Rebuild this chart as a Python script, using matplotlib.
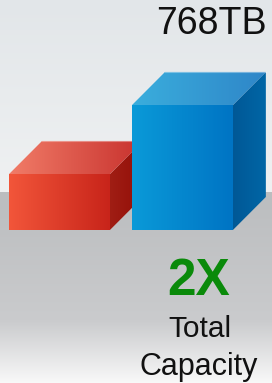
import numpy as np
import matplotlib.pyplot as plt
from matplotlib.patches import Polygon
from matplotlib.colors import LinearSegmentedColormap, to_rgb

# 数据
categories = ['Before', 'After']
capacity_tb = [344, 768]
value_label = '768TB'
ratio_text = '2X'
caption_lines = ['Total', 'Capacity']

front_colors = [('#f2563a', '#c8241a'), ('#0a9ad8', '#0074c4')]
top_colors = [('#f17c68', '#c8322e'), ('#3aaedd', '#2f86c8')]
side_colors = [('#a01e14', '#930e08'), ('#005896', '#0066a6')]

W, H = 272, 383
fig = plt.figure(figsize=(W / 100, H / 100), dpi=100)
ax = fig.add_axes([0, 0, 1, 1])

xlim = (-0.484, 1.728)
ylim = (-940, 1413)

# 背景渐变
rows = np.arange(H)
stops_px = [0, 191, 192, 200, 320, 383]
stops_c = ['#e2e6e9', '#eff1f2', '#bbbdbf', '#bcbec0', '#cacbcd', '#f9f9f9']
bg = np.zeros((H, 1, 3))
for k in range(3):
    bg[:, 0, k] = np.interp(rows, stops_px, [to_rgb(c)[k] for c in stops_c])
ax.imshow(bg, extent=[xlim[0], xlim[1], ylim[0], ylim[1]], aspect='auto',
          origin='upper', zorder=0, interpolation='bilinear')


def grad_fill(verts, c0, c1, z):
    poly = Polygon(verts, closed=True, facecolor='none', edgecolor='none')
    ax.add_patch(poly)
    xs = [v[0] for v in verts]
    ys = [v[1] for v in verts]
    cmap = LinearSegmentedColormap.from_list('g', [c0, c1])
    im = ax.imshow(np.linspace(0, 1, 256)[None, :], cmap=cmap,
                   extent=[min(xs), max(xs), min(ys), max(ys)],
                   aspect='auto', origin='lower', zorder=z,
                   interpolation='bilinear')
    im.set_clip_path(poly)


width = 0.82
dx, dy = 0.268, 203
for i, h in enumerate(capacity_tb):
    x0, x1 = i - width / 2, i + width / 2
    z = 2 + i * 3
    side = [(x1, 0), (x1 + dx, dy), (x1 + dx, h + dy), (x1, h)]
    top = [(x0, h), (x1, h), (x1 + dx, h + dy), (x0 + dx, h + dy)]
    front = [(x0, 0), (x1, 0), (x1, h), (x0, h)]
    grad_fill(side, *side_colors[i], z)
    grad_fill(top, *top_colors[i], z)
    grad_fill(front, *front_colors[i], z + 1)
    ax.plot([x0 + dx, x1 + dx], [h + dy, h + dy], color='white', alpha=0.35,
            lw=0.8, zorder=z + 1)

ax.set_xlim(*xlim)
ax.set_ylim(*ylim)
ax.axis('off')

font = 'Liberation Sans'
fig.text(267 / W, 1 - 34.5 / H, value_label, ha='right', va='baseline',
         fontsize=27, family=font, color='#111111')
fig.text(199 / W, 1 - 295 / H, ratio_text, ha='center', va='baseline',
         fontsize=37, family=font, fontweight='bold', color='#0a8a0a')
fig.text(199.5 / W, 1 - 337 / H, caption_lines[0], ha='center', va='baseline',
         fontsize=21.5, family=font, color='#111111')
fig.text(199 / W, 1 - 375 / H, caption_lines[1], ha='center', va='baseline',
         fontsize=22, family=font, color='#111111')

fig.savefig('out.png', dpi=100)
